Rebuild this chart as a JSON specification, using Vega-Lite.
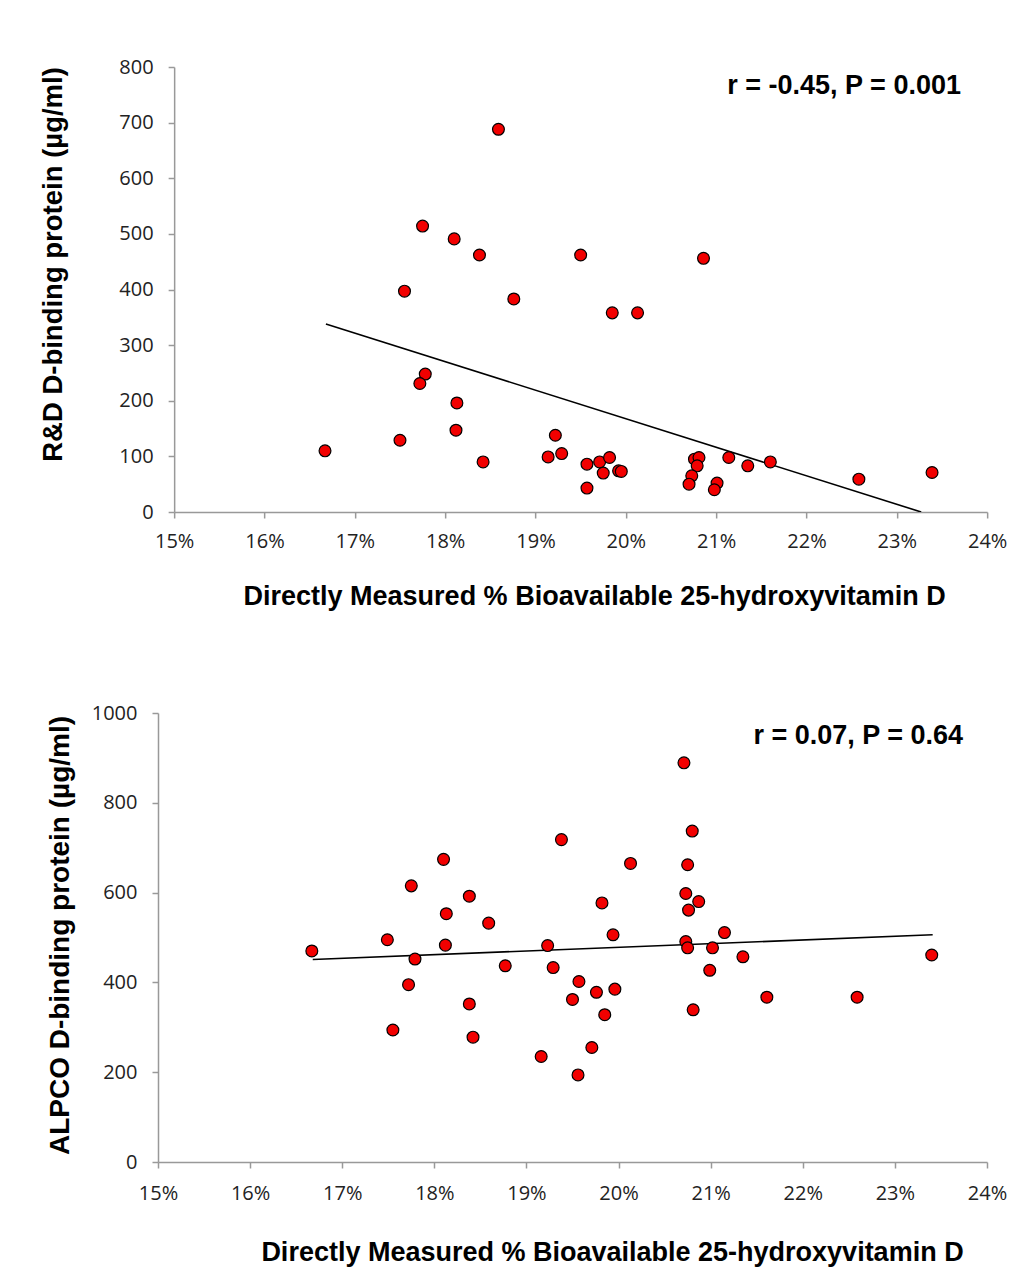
{
  "$schema": "https://vega.github.io/schema/vega-lite/v6.json",
  "padding": {"left": 39, "top": 57, "right": 5, "bottom": 5},
  "background": "white",
  "spacing": 94,
  "center": true,
  "config": {
    "view": {"stroke": null},
    "font": "Liberation Sans",
    "axis": {
      "domainColor": "#999999",
      "domainWidth": 1.5,
      "tickColor": "#999999",
      "tickWidth": 1.5,
      "tickSize": 6,
      "grid": false,
      "labelFlush": false,
      "labelFont": "Open Sans",
      "labelFontSize": 20,
      "labelColor": "#222222",
      "titleFont": "Liberation Sans",
      "titleFontSize": 27.5,
      "titleFontWeight": "bold",
      "titleColor": "#000000"
    }
  },
  "datasets": {
    "rnd": [
      {"pct": 16.67, "dbp": 110}, {"pct": 17.50, "dbp": 129}, {"pct": 17.55, "dbp": 397}, {"pct": 17.75, "dbp": 514},
      {"pct": 17.78, "dbp": 248}, {"pct": 17.72, "dbp": 231}, {"pct": 18.10, "dbp": 491}, {"pct": 18.13, "dbp": 196},
      {"pct": 18.12, "dbp": 147}, {"pct": 18.38, "dbp": 462}, {"pct": 18.42, "dbp": 90}, {"pct": 18.59, "dbp": 688},
      {"pct": 18.76, "dbp": 383}, {"pct": 19.14, "dbp": 99}, {"pct": 19.22, "dbp": 138}, {"pct": 19.29, "dbp": 105},
      {"pct": 19.50, "dbp": 462}, {"pct": 19.57, "dbp": 86}, {"pct": 19.57, "dbp": 43}, {"pct": 20.86, "dbp": 456},
      {"pct": 19.85, "dbp": 358}, {"pct": 20.13, "dbp": 358}, {"pct": 19.71, "dbp": 90}, {"pct": 19.82, "dbp": 98},
      {"pct": 19.75, "dbp": 70}, {"pct": 19.92, "dbp": 74}, {"pct": 19.95, "dbp": 73}, {"pct": 20.76, "dbp": 95},
      {"pct": 20.81, "dbp": 98}, {"pct": 20.79, "dbp": 83}, {"pct": 20.73, "dbp": 65}, {"pct": 20.70, "dbp": 50},
      {"pct": 21.01, "dbp": 52}, {"pct": 20.98, "dbp": 40}, {"pct": 21.14, "dbp": 98}, {"pct": 21.35, "dbp": 83},
      {"pct": 21.60, "dbp": 90}, {"pct": 22.58, "dbp": 59}, {"pct": 23.39, "dbp": 71}
    ],
    "rndFit": [{"pct": 16.68, "dbp": 338}, {"pct": 23.27, "dbp": 0}],
    "rndNote": [{"pct": 23.71, "dbp": 766, "label": "r = -0.45, P = 0.001"}],
    "alpco": [
      {"pct": 16.67, "dbp": 470}, {"pct": 17.49, "dbp": 495}, {"pct": 17.55, "dbp": 294}, {"pct": 17.75, "dbp": 615},
      {"pct": 17.79, "dbp": 452}, {"pct": 17.72, "dbp": 395}, {"pct": 18.10, "dbp": 674}, {"pct": 18.13, "dbp": 553},
      {"pct": 18.12, "dbp": 483}, {"pct": 18.38, "dbp": 592}, {"pct": 18.38, "dbp": 352}, {"pct": 18.42, "dbp": 278},
      {"pct": 18.59, "dbp": 532}, {"pct": 18.77, "dbp": 437}, {"pct": 19.16, "dbp": 235}, {"pct": 19.23, "dbp": 482},
      {"pct": 19.29, "dbp": 433}, {"pct": 19.38, "dbp": 718}, {"pct": 19.50, "dbp": 362}, {"pct": 19.57, "dbp": 402},
      {"pct": 19.56, "dbp": 194}, {"pct": 19.76, "dbp": 378}, {"pct": 19.71, "dbp": 255}, {"pct": 19.85, "dbp": 328},
      {"pct": 19.82, "dbp": 577}, {"pct": 19.94, "dbp": 506}, {"pct": 19.96, "dbp": 385}, {"pct": 20.13, "dbp": 665},
      {"pct": 20.71, "dbp": 889}, {"pct": 20.80, "dbp": 737}, {"pct": 20.75, "dbp": 662}, {"pct": 20.73, "dbp": 598},
      {"pct": 20.87, "dbp": 580}, {"pct": 20.76, "dbp": 561}, {"pct": 20.73, "dbp": 491}, {"pct": 20.75, "dbp": 477},
      {"pct": 20.81, "dbp": 339}, {"pct": 21.02, "dbp": 477}, {"pct": 20.99, "dbp": 427}, {"pct": 21.15, "dbp": 511},
      {"pct": 21.35, "dbp": 457}, {"pct": 21.61, "dbp": 367}, {"pct": 22.59, "dbp": 367}, {"pct": 23.40, "dbp": 461}
    ],
    "alpcoFit": [{"pct": 16.68, "dbp": 451}, {"pct": 23.41, "dbp": 506}],
    "alpcoNote": [{"pct": 23.74, "dbp": 948, "label": "r = 0.07, P = 0.64"}],
    "spacer": [{"k": 1}]
  },
  "vconcat": [
    {
      "width": 813,
      "height": 445,
      "layer": [
        {
          "data": {"name": "rndFit"},
          "mark": {"type": "line", "color": "#000000", "strokeWidth": 1.6, "clip": true},
          "encoding": {
            "x": {"field": "pct", "type": "quantitative"},
            "y": {"field": "dbp", "type": "quantitative"}
          }
        },
        {
          "data": {"name": "rnd"},
          "mark": {"type": "point", "shape": "circle", "filled": true, "fill": "#f20000", "stroke": "#000000", "strokeWidth": 1.2, "size": 140, "opacity": 1},
          "encoding": {
            "x": {
              "field": "pct", "type": "quantitative",
              "scale": {"domain": [15, 24], "nice": false, "zero": false},
              "axis": {
                "values": [15, 16, 17, 18, 19, 20, 21, 22, 23, 24],
                "labelExpr": "datum.value + '%'",
                "labelPadding": 13,
                "title": "Directly Measured % Bioavailable 25-hydroxyvitamin D",
                "titleFontSize": 27,
                "titlePadding": 32,
                "titleX": 420,
                "titleAnchor": "middle"
              }
            },
            "y": {
              "field": "dbp", "type": "quantitative",
              "scale": {"domain": [0, 800], "nice": false},
              "axis": {
                "values": [0, 100, 200, 300, 400, 500, 600, 700, 800],
                "format": "d",
                "labelPadding": 15,
                "title": "R&D D-binding protein (µg/ml)",
                "titlePadding": 51,
                "titleY": 197
              }
            }
          }
        },
        {
          "data": {"name": "rndNote"},
          "mark": {"type": "text", "align": "right", "baseline": "middle", "font": "Liberation Sans", "fontSize": 27, "fontWeight": "bold", "color": "#000000"},
          "encoding": {
            "x": {"field": "pct", "type": "quantitative"},
            "y": {"field": "dbp", "type": "quantitative"},
            "text": {"field": "label"}
          }
        }
      ]
    },
    {
      "spacing": 0,
      "hconcat": [
        {
          "width": 829,
          "height": 449,
          "layer": [
            {
              "data": {"name": "alpcoFit"},
              "mark": {"type": "line", "color": "#000000", "strokeWidth": 1.6, "clip": true},
              "encoding": {
                "x": {"field": "pct", "type": "quantitative"},
                "y": {"field": "dbp", "type": "quantitative"}
              }
            },
            {
              "data": {"name": "alpco"},
              "mark": {"type": "point", "shape": "circle", "filled": true, "fill": "#f20000", "stroke": "#000000", "strokeWidth": 1.2, "size": 140, "opacity": 1},
              "encoding": {
                "x": {
                  "field": "pct", "type": "quantitative",
                  "scale": {"domain": [15, 24], "nice": false, "zero": false},
                  "axis": {
                    "values": [15, 16, 17, 18, 19, 20, 21, 22, 23, 24],
                    "labelExpr": "datum.value + '%'",
                    "labelPadding": 15,
                    "title": "Directly Measured % Bioavailable 25-hydroxyvitamin D",
                    "titleFontSize": 27,
                    "titlePadding": 36,
                    "titleX": 454,
                    "titleAnchor": "middle"
                  }
                },
                "y": {
                  "field": "dbp", "type": "quantitative",
                  "scale": {"domain": [0, 1000], "nice": false},
                  "axis": {
                    "values": [0, 200, 400, 600, 800, 1000],
                    "format": "d",
                    "labelPadding": 15,
                    "title": "ALPCO D-binding protein (µg/ml)",
                    "titleFontSize": 28,
                    "titlePadding": 17,
                    "titleY": 222
                  }
                }
              }
            },
            {
              "data": {"name": "alpcoNote"},
              "mark": {"type": "text", "align": "right", "baseline": "middle", "font": "Liberation Sans", "fontSize": 27, "fontWeight": "bold", "color": "#000000"},
              "encoding": {
                "x": {"field": "pct", "type": "quantitative"},
                "y": {"field": "dbp", "type": "quantitative"},
                "text": {"field": "label"}
              }
            }
          ]
        },
        {
          "width": 16,
          "height": 449,
          "data": {"name": "spacer"},
          "mark": {"type": "point", "opacity": 0},
          "encoding": {}
        }
      ]
    }
  ]
}
